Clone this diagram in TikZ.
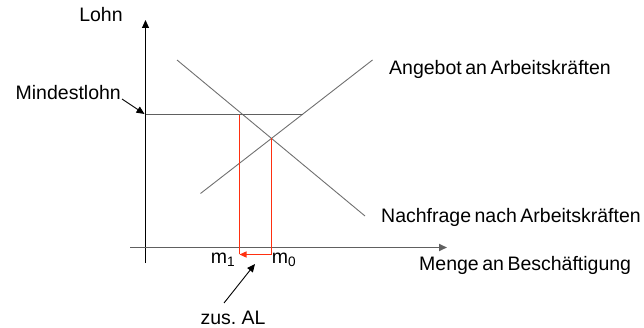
\documentclass[tikz,border=0pt]{standalone}
\usepackage{fontspec}
\setmainfont{Liberation Sans}
\usetikzlibrary{arrows.meta}
\definecolor{curvegray}{HTML}{707070}
\definecolor{axisgray}{HTML}{606060}
\definecolor{redline}{RGB}{255,48,16}
\newcommand{\mylblfont}{\fontsize{19.5}{23}\selectfont\spaceskip=0.18em plus 0.05em\relax}
\tikzset{
  lbl/.style={inner sep=0pt, font=\mylblfont},
  curve/.style={draw=curvegray, line width=0.9pt},
  tip/.style={-{Triangle[length=8pt,width=7pt]}},
  redl/.style={color=redline, line width=1.2pt},
}
\begin{document}
\begin{tikzpicture}[x=1pt,y=-1pt]
\useasboundingbox (0,0) rectangle (644,328);
% axes
\coordinate (ybot) at (145.5,263);
\coordinate (ytop) at (145.5,20);
\coordinate (xleft) at (130,247.5);
\coordinate (xright) at (447,247.5);
\draw[black, line width=1pt, tip] (ybot) -- (ytop);
\draw[axisgray, line width=1.8pt, tip] (xleft) -- (xright);
% curves
\coordinate (d1) at (177,60);
\coordinate (d2) at (365,216);
\coordinate (s1) at (200.5,193.5);
\coordinate (s2) at (372.5,60);
\draw[curve] (d1) -- (d2);
\draw[curve] (s1) -- (s2);
% minimum wage
\coordinate (mw0) at (145.5,114.5);
\coordinate (mw1) at (302.5,114.5);
\draw[axisgray, line width=1.8pt] (mw0) -- (mw1);
% red lines
\coordinate (r1t) at (239.5,115.5);
\coordinate (r1b) at (239.5,254.5);
\coordinate (r0t) at (271.5,138);
\coordinate (r0b) at (271.5,254.5);
\draw[redl] (r1b) -- (r1t);
\draw[redl] (r0t) -- (r0b);
\draw[redl, -{Triangle[length=7pt,width=6pt]}] (r0b) -- (r1b);
% labels
\node[lbl] (lohn) at (101,14.5) {Lohn};
\node[lbl, anchor=east] (mindest) at (121,93) {Mindestlohn};
\node[lbl, anchor=west] (angebot) at (389,69) {Angebot an Arbeitskräften};
\node[lbl, anchor=west] (nachfrage) at (381,217) {Nachfrage nach Arbeitskräften};
\node[lbl, anchor=west] (menge) at (419,265) {Menge an Beschäftigung};
\node[lbl] (m1) at (223,260) {m\textsubscript{1}};
\node[lbl] (m0) at (284,260) {m\textsubscript{0}};
\node[lbl] (zus) at (233,318) {zus. AL};
\coordinate (mwtip) at (144.5,114);
\coordinate (mwtail) at (122,99);
\draw[black, line width=0.9pt, tip] (mwtail) -- (mwtip);
\coordinate (zustail) at (224,303);
\coordinate (zushead) at (255,264);
\draw[black, line width=0.9pt, tip] (zustail) -- (zushead);
\end{tikzpicture}
\end{document}
